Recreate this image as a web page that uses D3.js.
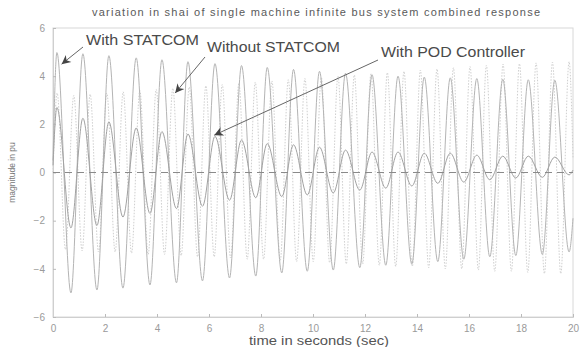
<!DOCTYPE html>
<html>
<head>
<meta charset="utf-8">
<script src="https://cdn.jsdelivr.net/npm/d3@7"></script>
<style>
  html, body { margin: 0; padding: 0; background: #fff; }
  svg { display: block; font-family: "Liberation Sans", Arial, sans-serif; }
</style>
</head>
<body>
<svg id="chart" width="583" height="347"></svg>
<script>
// ---- data ----
const chartTitle = "variation in shai of single machine infinite bus system combined response";
const xLabel = "time in seconds (sec)";
const yLabel = "magnitude in pu";
const xTicks = [0, 2, 4, 6, 8, 10, 12, 14, 16, 18, 20];
const yTicks = [-6, -4, -2, 0, 2, 4, 6];

// With STATCOM and With POD Controller share the same extrema timing
const solidTime = [0, 0.15, 0.69, 1.15, 1.69, 2.15, 2.69, 3.2, 3.73, 4.19, 4.75, 5.19, 5.75, 6.23, 6.79,
  7.25, 7.8, 8.24, 8.8, 9.25, 9.78, 10.25, 10.78, 11.25, 11.8, 12.27, 12.8, 13.27, 13.8, 14.28, 14.8,
  15.28, 15.8, 16.3, 16.8, 17.3, 17.8, 18.28, 18.82, 19.3, 19.85, 20];
const withStatcom = [0.5, 4.98, -5.0, 4.93, -4.88, 4.85, -4.8, 4.76, -4.67, 4.68, -4.58, 4.6, -4.5, 4.52, -4.38,
  4.44, -4.3, 4.36, -4.17, 4.28, -4.1, 4.2, -4.05, 4.12, -3.95, 4.06, -3.85, 4.0, -3.8, 3.96, -3.7,
  3.93, -3.6, 3.9, -3.5, 3.87, -3.45, 3.85, -3.4, 3.83, -3.3, -1.9];
const withPod = [0.3, 2.7, -2.3, 2.25, -2.2, 2.1, -1.85, 1.85, -1.7, 1.7, -1.5, 1.6, -1.4, 1.5, -1.15,
  1.35, -1.05, 1.2, -1.0, 1.15, -0.93, 1.05, -0.85, 0.93, -0.73, 0.85, -0.65, 0.85, -0.56, 0.8, -0.45,
  0.8, -0.4, 0.72, -0.3, 0.68, -0.23, 0.68, -0.2, 0.64, -0.1, 0.1];

const withoutTime = [0, 0.16, 0.48, 0.80, 1.12, 1.43, 1.75, 2.07, 2.39, 2.70, 3.02, 3.34, 3.66, 3.97, 4.29,
  4.61, 4.93, 5.24, 5.56, 5.88, 6.20, 6.51, 6.83, 7.15, 7.47, 7.78, 8.10, 8.42, 8.74, 9.05, 9.37, 9.69,
  10.01, 10.32, 10.64, 10.96, 11.28, 11.59, 11.91, 12.23, 12.55, 12.86, 13.18, 13.50, 13.82, 14.13, 14.45,
  14.77, 15.09, 15.40, 15.72, 16.04, 16.36, 16.67, 16.99, 17.31, 17.63, 17.94, 18.26, 18.58, 18.90, 19.21,
  19.53, 19.85, 20];
const withoutStatcom = [0, 3.3, -3.2, 3.2, -3.25, 3.25, -3.3, 3.3, -3.3, 3.35, -3.35, 3.4, -3.4, 3.45, -3.4,
  3.5, -3.45, 3.55, -3.5, 3.6, -3.5, 3.65, -3.55, 3.7, -3.6, 3.75, -3.6, 3.8, -3.65, 3.85, -3.7, 3.9,
  -3.7, 3.95, -3.75, 4.0, -3.8, 4.05, -3.8, 4.1, -3.85, 4.15, -3.9, 4.2, -3.9, 4.25, -3.95, 4.3, -4.0,
  4.35, -4.0, 4.4, -4.05, 4.45, -4.1, 4.5, -4.1, 4.52, -4.15, 4.55, -4.2, 4.58, -4.2, 4.6, 0.6];

// annotation labels with the data point each arrow points at [t, value]
const annotationText = ["With STATCOM", "Without STATCOM", "With POD Controller"];
const annotationTarget = [[0.33, 4.5], [4.7, 3.3], [6.2, 1.55]];

// ---- drawing ----
const svg = d3.select("#chart");
const W = 583, H = 347;
const m = { left: 53, right: 10, top: 28, bottom: 30 };
const x = d3.scaleLinear().domain([0, 20]).range([m.left, W - m.right]);
const y = d3.scaleLinear().domain([-6, 6]).range([H - m.bottom, m.top]);

const zip = (ts, vs) => d3.range(Math.min(ts.length, vs.length)).map(i => [ts[i], vs[i]]);
const line = d3.line().x(d => x(d[0])).y(d => y(d[1])).curve(d3.curveMonotoneX);

// frame
svg.append("rect").attr("x", x(0)).attr("y", y(6)).attr("width", x(20) - x(0)).attr("height", y(-6) - y(6))
  .attr("fill", "none").attr("stroke", "#d8d8d8").attr("stroke-width", 1);

// axes
const xAxis = svg.append("g").attr("transform", `translate(0,${y(-6)})`)
  .call(d3.axisBottom(x).tickValues(xTicks).tickSize(-3).tickPadding(8).tickFormat(d3.format("d")));
const yAxis = svg.append("g").attr("transform", `translate(${x(0)},0)`)
  .call(d3.axisLeft(y).tickValues(yTicks).tickSize(-3).tickPadding(8).tickFormat(d3.format("d")));
[xAxis, yAxis].forEach(g => {
  g.select(".domain").attr("stroke", "#cfcfcf");
  g.selectAll(".tick line").attr("stroke", "#bbb");
  g.selectAll(".tick text").attr("fill", "#9a9a9a").attr("font-size", 10)
    .attr("font-family", "'Liberation Sans', Arial, sans-serif");
});

// series
svg.append("path").datum(zip(withoutTime, withoutStatcom)).attr("d", line)
  .attr("fill", "none").attr("stroke", "#cfcfcf").attr("stroke-width", 1).attr("stroke-dasharray", "1.5,1.5");
svg.append("path").datum(zip(solidTime, withStatcom)).attr("d", line)
  .attr("fill", "none").attr("stroke", "#b4b4b4").attr("stroke-width", 1);
svg.append("path").datum(zip(solidTime, withPod)).attr("d", line)
  .attr("fill", "none").attr("stroke", "#a2a2a2").attr("stroke-width", 1);

// zero reference line
svg.append("line").attr("x1", x(0)).attr("x2", x(20)).attr("y1", y(0)).attr("y2", y(0))
  .attr("stroke", "#8a8a8a").attr("stroke-width", 1).attr("stroke-dasharray", "7,5");

// title & axis labels
svg.append("text").attr("x", 92).attr("y", 16)
  .attr("font-size", 11).attr("fill", "#5a5a5a")
  .attr("textLength", 448).attr("lengthAdjust", "spacing").text(chartTitle);
svg.append("text").attr("x", 249).attr("y", 345)
  .attr("font-size", 12).attr("fill", "#555")
  .attr("textLength", 140).attr("lengthAdjust", "spacingAndGlyphs").text(xLabel);
svg.append("text").attr("transform", `translate(15,${y(0)}) rotate(-90)`).attr("text-anchor", "middle")
  .attr("font-size", 8.5).attr("fill", "#777").text(yLabel);

// annotations
const defs = svg.append("defs");
defs.append("marker").attr("id", "arrowhead").attr("viewBox", "0 0 10 10").attr("refX", 10).attr("refY", 5)
  .attr("markerWidth", 12).attr("markerHeight", 9).attr("markerUnits", "userSpaceOnUse").attr("orient", "auto")
  .append("path").attr("d", "M0,0 L10,5 L0,10 L3,5 Z").attr("fill", "#444");

const labelPos = [[86, 45], [207, 52], [381, 57]];
const labelLen = [113, 133, 144];
const arrowStart = [[83, 47], [205, 57], [378, 60]];
annotationText.forEach((t, i) => {
  svg.append("text").attr("x", labelPos[i][0]).attr("y", labelPos[i][1])
    .attr("font-size", 14).attr("fill", "#4a4a4a")
    .attr("textLength", labelLen[i]).attr("lengthAdjust", "spacingAndGlyphs").text(t);
  svg.append("line").attr("x1", arrowStart[i][0]).attr("y1", arrowStart[i][1])
    .attr("x2", x(annotationTarget[i][0])).attr("y2", y(annotationTarget[i][1]))
    .attr("stroke", "#666").attr("stroke-width", 1).attr("marker-end", "url(#arrowhead)");
});
</script>
</body>
</html>
